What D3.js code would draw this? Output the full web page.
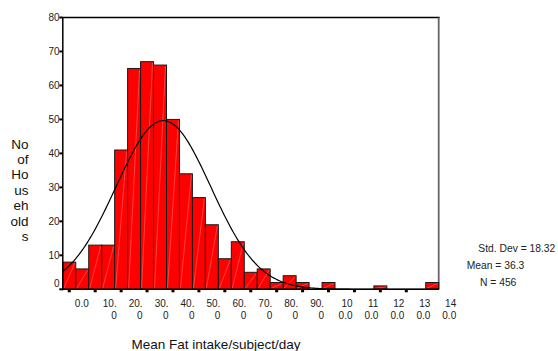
<!DOCTYPE html>
<html>
<head>
<meta charset="utf-8">
<script src="https://cdn.jsdelivr.net/npm/d3@7"></script>
<style>
  html, body { margin: 0; padding: 0; background: #fff; }
  svg { display: block; font-family: "Liberation Sans", Arial, sans-serif; }
</style>
</head>
<body>
<div id="chart"></div>
<script>
// histogram bins (midpoints) and household counts
const binMids = [0, 5, 10, 15, 20, 25, 30, 35, 40, 45, 50, 55, 60, 65, 70,
                 75, 80, 85, 90, 95, 100, 105, 110, 115, 120, 125, 130, 135, 140];
const counts  = [8, 6, 13, 13, 41, 65, 67, 66, 50, 34, 27, 19, 9, 14, 5,
                 6, 2, 4, 2, 0, 2, 0, 0, 0, 1, 0, 0, 0, 2];
const binWidth = 5;

const yTicks = [0, 10, 20, 30, 40, 50, 60, 70, 80];
const xTicks = [0, 10, 20, 30, 40, 50, 60, 70, 80, 90, 100, 110, 120, 130, 140];
// SPSS wraps the tick labels over two lines
const xTickLabels = [["0.0"], ["10.", "0"], ["20.", "0"], ["30.", "0"], ["40.", "0"],
                     ["50.", "0"], ["60.", "0"], ["70.", "0"], ["80.", "0"], ["90.", "0"],
                     ["10", "0.0"], ["11", "0.0"], ["12", "0.0"], ["13", "0.0"], ["14", "0.0"]];

const yTitle = ["No", "of", "Ho", "us", "eh", "old", "s"];
const xTitle = "Mean Fat intake/subject/day";

const stdDev = 18.32, mean = 36.3, nTotal = 456;
const statLines = ["Std. Dev = " + stdDev.toFixed(2), "Mean = " + mean, "N = " + nTotal];

const width = 558, height = 351;
const svg = d3.select('#chart').append('svg')
  .attr('width', width)
  .attr('height', height);

const x = d3.scaleLinear().domain([-2.5, 142.5]).range([62.8, 438.7]);
const y = d3.scaleLinear().domain([0, 80]).range([289.3, 17.5]);

// frame: top line black, right edge grey
svg.append('line')
  .attr('x1', x.range()[0]).attr('x2', x.range()[1] + 1)
  .attr('y1', y(80)).attr('y2', y(80))
  .attr('stroke', '#000').attr('stroke-width', 1.3);
svg.append('line')
  .attr('x1', x.range()[1]).attr('x2', x.range()[1])
  .attr('y1', y(80)).attr('y2', y(0))
  .attr('stroke', '#666').attr('stroke-width', 1.8);

// bars
const bars = svg.append('g');
const bin = binMids.map((m, i) => ({mid: m, n: counts[i]})).filter(d => d.n > 0);

bars.selectAll('rect')
  .data(bin)
  .enter().append('rect')
    .attr('x', d => x(d.mid - binWidth / 2))
    .attr('y', d => y(d.n))
    .attr('width', d => x(d.mid + binWidth / 2) - x(d.mid - binWidth / 2))
    .attr('height', d => y(0) - y(d.n))
    .attr('fill', '#ff0000')
    .attr('stroke', '#1a1a1a')
    .attr('stroke-width', 1);

// faint diagonal artefact inside each bar
bars.selectAll('line')
  .data(bin)
  .enter().append('line')
    .attr('x1', d => x(d.mid - binWidth / 2) + 1)
    .attr('y1', y(0) - 1)
    .attr('x2', d => x(d.mid + binWidth / 2) - 1)
    .attr('y2', d => y(d.n) + 1)
    .attr('stroke', '#ff9a9a')
    .attr('stroke-width', 0.6)
    .attr('opacity', 0.7);

// normal curve
const normal = v => nTotal * binWidth / (stdDev * Math.sqrt(2 * Math.PI)) *
  Math.exp(-0.5 * Math.pow((v - mean) / stdDev, 2));
const curveX = d3.range(-2.5, 142.6, 0.5);
svg.append('path')
  .datum(curveX)
  .attr('fill', 'none')
  .attr('stroke', '#000')
  .attr('stroke-width', 1.2)
  .attr('d', d3.line().x(v => x(v)).y(v => y(normal(v))));

// axes lines
svg.append('line')
  .attr('x1', x.range()[0]).attr('x2', x.range()[0])
  .attr('y1', y(80)).attr('y2', y(0) + 1)
  .attr('stroke', '#000').attr('stroke-width', 1.5);
svg.append('line')
  .attr('x1', x.range()[0]).attr('x2', x.range()[1])
  .attr('y1', y(0)).attr('y2', y(0))
  .attr('stroke', '#000').attr('stroke-width', 1.5);

// y ticks + labels
const yAxis = svg.append('g');
yAxis.selectAll('rect')
  .data(yTicks)
  .enter().append('rect')
    .attr('x', x.range()[0] - 3.5)
    .attr('y', d => y(d) - 1)
    .attr('width', 3.5)
    .attr('height', 2)
    .attr('fill', '#000');
yAxis.selectAll('text')
  .data(yTicks)
  .enter().append('text')
    .attr('x', 59.5)
    .attr('y', d => d === 0 ? y(d) - 6 : y(d))
    .attr('dy', '0.35em')
    .attr('text-anchor', 'end')
    .attr('font-size', 10)
    .attr('fill', '#222')
    .text(d => d);

// x ticks + labels
const xAxis = svg.append('g');
xAxis.selectAll('rect')
  .data(xTicks.filter(d => d < 140))
  .enter().append('rect')
    .attr('x', d => x(d) - 1.5)
    .attr('y', y(0) + 0.5)
    .attr('width', 3)
    .attr('height', 2.5)
    .attr('fill', '#000');
const xl = xAxis.selectAll('text')
  .data(xTicks)
  .enter().append('text')
    .attr('text-anchor', 'end')
    .attr('font-size', 10)
    .attr('fill', '#222');
xl.each(function (d, i) {
  const t = d3.select(this);
  const right = x(d) + (d === 0 ? 19.5 : d >= 100 ? 24 : 21.5);
  xTickLabels[i].forEach((s, j) => {
    t.append('tspan')
      .attr('x', right)
      .attr('y', 306.7 + j * 12.6)
      .text(s);
  });
});

// titles
svg.append('text')
  .attr('x', 216)
  .attr('y', 348.5)
  .attr('text-anchor', 'middle')
  .attr('font-size', 13.5)
  .attr('fill', '#111')
  .text(xTitle);

svg.append('g').selectAll('text')
  .data(yTitle)
  .enter().append('text')
    .attr('x', 28.5)
    .attr('y', (d, i) => 148.5 + i * 15.45)
    .attr('text-anchor', 'end')
    .attr('font-size', 13.5)
    .attr('fill', '#111')
    .text(d => d);

// stats box text
const statPos = [[478.3, 251.5], [466.7, 268.5], [480, 286]];
svg.append('g').selectAll('text')
  .data(statLines)
  .enter().append('text')
    .attr('x', (d, i) => statPos[i][0])
    .attr('y', (d, i) => statPos[i][1])
    .attr('font-size', 10.3)
    .attr('fill', '#222')
    .text(d => d);
</script>
</body>
</html>
